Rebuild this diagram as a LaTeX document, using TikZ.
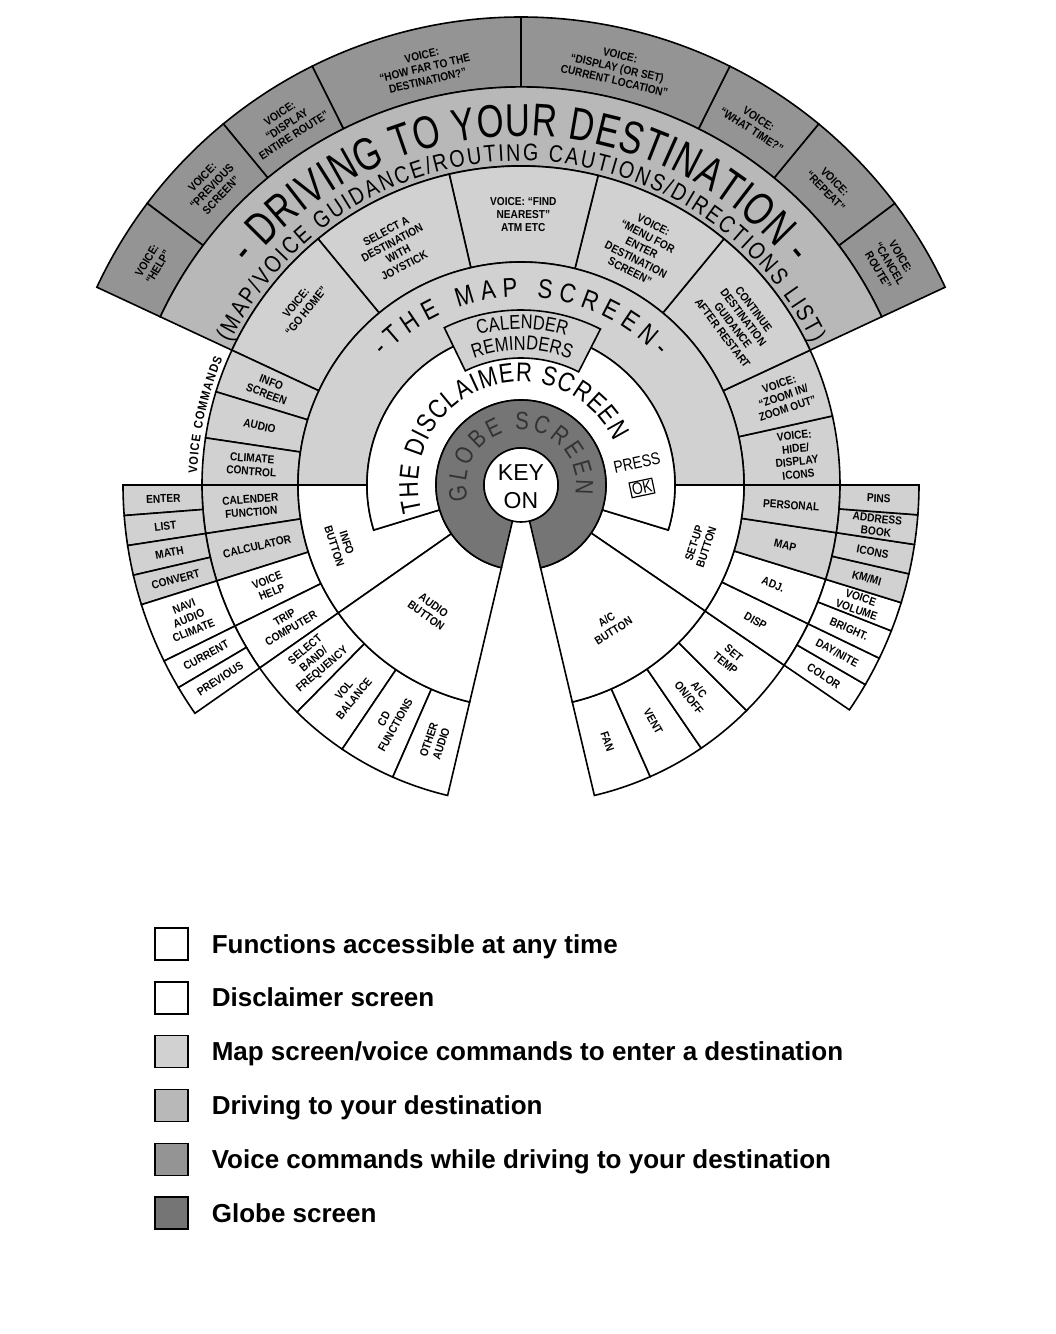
\documentclass[tikz,border=0pt]{standalone}
\usepackage{fontspec}
\setmainfont{Liberation Sans}
\newfontfamily\cellfont[FakeStretch=0.88]{Liberation Sans}
\newfontfamily\ringfont[FakeStretch=0.82]{Liberation Sans}
\newfontfamily\drivefont[FakeStretch=0.75]{Liberation Sans}
\usetikzlibrary{decorations.text}

\colorlet{mapgray}{black!18}
\colorlet{drivegray}{black!28}
\colorlet{voicegray}{black!42}
\colorlet{globegray}{black!54}

% annular cell: [options]{start angle}{end angle}{inner radius}{outer radius}
\newcommand{\ringcell}[5][]{%
  \draw[#1] (#2:#4) arc[start angle=#2,end angle=#3,radius=#4]
    -- (#3:#5) arc[start angle=#3,end angle=#2,radius=#5] -- cycle;}
% text spread along a clockwise arc: {radius}{from}{to}{font}{text}
\newcommand{\arclabel}[5]{%
  \path[decorate,decoration={text along path,text align={fit to path},
      text={|#4|#5}}] (#2:#1) arc[start angle=#2,end angle=#3,radius=#1];}

\begin{document}
\begin{tikzpicture}[x=1pt,y=1pt,line width=1.6pt,
    celltext/.style={font=\cellfont\bfseries\fontsize{11.5}{13}\selectfont,align=center,inner sep=0pt},
    swatch/.style={draw=black,line width=1.4pt,minimum width=33pt,minimum height=32pt,inner sep=0pt},
    legendtext/.style={font=\bfseries\fontsize{26}{28}\selectfont,inner sep=0pt}]

	\useasboundingbox (-521,-849) rectangle (535,485);

	% ring radii
	\def\rKey{37}
	\def\rGlobe{85}
	\def\rDisc{154}
	\def\rBtn{223}
	\def\rSub{319}
	\def\rOut{398}
	\def\rFan{468}

	% --- upper fan: voice commands while driving, driving ring ---
	\foreach \angA/\angB in {25/37, 37/50.5, 50.5/63.5, 63.5/90, 90/116.5, 116.5/129.5, 129.5/143, 143/155}
		{\ringcell[fill=voicegray]{\angA}{\angB}{\rOut}{\rFan}}
	\ringcell[fill=drivegray]{25}{155}{\rSub}{\rOut}

	% map screen cells and voice command columns
	\foreach \angA/\angB in {0/12.5, 12.5/25, 25/50.5, 50.5/76, 76/103, 103/129.5, 129.5/155, 155/163, 163/171.5, 171.5/180}
		{\ringcell[fill=mapgray]{\angA}{\angB}{\rBtn}{\rSub}}
	\ringcell[fill=mapgray]{0}{180}{\rDisc}{\rBtn}

	% --- lower half: sub menus of the buttons ---
	\foreach \angA/\angB/\col in {180/188.75/mapgray, 188.75/197.5/mapgray, 197.5/206.25/white, 206.25/215/white,
			215/225.4/white, 225.4/235.9/white, 235.9/246.3/white, 246.3/256.7/white,
			-76.7/-66.1/white, -66.1/-55.6/white, -55.6/-45/white, -45/-34.4/white,
			-34.4/-25.8/white, -25.8/-17.2/white, -17.2/-8.6/mapgray, -8.6/0/mapgray}
		{\ringcell[fill=\col]{\angA}{\angB}{\rBtn}{\rSub}}
	\foreach \angA/\angB/\col in {180/184.4/mapgray, 184.4/188.75/mapgray, 188.75/193.1/mapgray, 193.1/197.5/mapgray,
			197.5/206.25/white, 206.25/210.6/white, 210.6/215/white,
			-34.4/-30.1/white, -30.1/-25.8/white, -25.8/-21.5/white, -21.5/-17.2/white,
			-17.2/-12.9/mapgray, -12.9/-8.6/mapgray, -8.6/-4.3/mapgray, -4.3/0/mapgray}
		{\ringcell[fill=\col]{\angA}{\angB}{\rSub}{\rOut}}

	% buttons (info and set-up reach in below the disclaimer ring)
	\draw[fill=white] (180:\rBtn) arc[start angle=180,end angle=215,radius=\rBtn] -- (215:\rGlobe)
		arc[start angle=215,end angle=197,radius=\rGlobe] -- (197:\rDisc)
		arc[start angle=197,end angle=180,radius=\rDisc] -- cycle;
	\draw[fill=white] (0:\rBtn) arc[start angle=0,end angle=-34.4,radius=\rBtn] -- (-34.4:\rGlobe)
		arc[start angle=-34.4,end angle=-17,radius=\rGlobe] -- (-17:\rDisc)
		arc[start angle=-17,end angle=0,radius=\rDisc] -- cycle;
	\ringcell[fill=white]{215}{256.7}{\rGlobe}{\rBtn}
	\ringcell[fill=white]{-76.7}{-34.4}{\rGlobe}{\rBtn}

	% --- centre: disclaimer, globe, key ---
	\ringcell[fill=white]{-17}{197}{\rGlobe}{\rDisc}
	\ringcell[fill=globegray]{-76.7}{256.7}{\rKey}{\rGlobe}
	\draw[fill=white] (0,0) circle[radius=\rKey];
	\ringcell[fill=mapgray]{63}{116}{127}{175} % calender tab

	% --- ring titles ---
	\node[font=\fontsize{23}{28}\selectfont,align=center,inner sep=0pt] (key) at (0,-2) {KEY\\ON};
	\arclabel{55}{196}{-10}{\ringfont\fontsize{25}{28}\selectfont\color{black!80}}{GLOBE SCREEN}
	\arclabel{103}{195}{25}{\ringfont\fontsize{27}{30}\selectfont}{THE DISCLAIMER SCREEN}
	\arclabel{188}{137}{43}{\ringfont\fontsize{27}{30}\selectfont}{-THE MAP SCREEN-}
	\arclabel{324}{154}{26}{\ringfont\fontsize{24}{28}\selectfont}{(MAP/VOICE GUIDANCE/ROUTING CAUTIONS/DIRECTIONS LIST)}
	\arclabel{349}{141}{39}{\drivefont\fontsize{46}{50}\selectfont}{- DRIVING TO YOUR DESTINATION -}
	\arclabel{324}{178}{157}{\cellfont\bfseries\fontsize{12.5}{15}\selectfont}{VOICE COMMANDS}
	\path[decorate,decoration={text along path,text align=center,
		text={|\ringfont\fontsize{20}{22}\selectfont|CALENDER}}] (116:156) arc[start angle=116,end angle=63,radius=156];
	\path[decorate,decoration={text along path,text align=center,
		text={|\ringfont\fontsize{20}{22}\selectfont|REMINDERS}}] (116:135) arc[start angle=116,end angle=63,radius=135];

	\node[font=\ringfont\fontsize{17}{19}\selectfont,rotate=12,inner sep=0pt] (press) at (10.7:118) {PRESS};
	\node[font=\ringfont\fontsize{17}{19}\selectfont,rotate=12,draw,line width=1.2pt,inner sep=1.5pt] (ok) at (-1.4:121) {OK};

	% --- cell labels: name/angle/radius/rotation/text ---
	\foreach \nm/\ang/\rr/\rot/\txt in {
			gohome/141/283/51/{VOICE:\\“GO HOME”},
			joystick/118/268/28/{SELECT A\\DESTINATION\\WITH\\JOYSTICK},
			nearest/89.5/270/0/{VOICE: “FIND\\NEAREST”\\ATM ETC},
			menu/63/266/-27/{VOICE:\\“MENU FOR\\ENTER\\DESTINATION\\SCREEN”},
			continue/37/272/-53/{CONTINUE\\DESTINATION\\GUIDANCE\\AFTER RESTART},
			infoscreen/159/270/-21/{INFO\\SCREEN},
			audiocmd/167.3/268/-12.7/{AUDIO},
			climate/175.7/270/-4.3/{CLIMATE\\CONTROL},
			zoom/18.7/277/18.7/{VOICE:\\“ZOOM IN/\\ZOOM OUT”},
			icons/6.2/277/6.2/{VOICE:\\HIDE/\\DISPLAY\\ICONS},
			vhelp/149/430/59/{VOICE:\\“HELP”},
			vprev/136/430/46/{VOICE:\\“PREVIOUS\\SCREEN”},
			vroute/123/430/33/{VOICE:\\“DISPLAY\\ENTIRE ROUTE”},
			vfar/103/428/13/{VOICE:\\“HOW FAR TO THE\\DESTINATION?”},
			vloc/77/428/-13/{VOICE:\\“DISPLAY (OR SET)\\CURRENT LOCATION”},
			vtime/57/430/-33/{VOICE:\\“WHAT TIME?”},
			vrepeat/44/430/-46/{VOICE:\\“REPEAT”},
			vcancel/31/430/-59/{VOICE:\\“CANCEL\\ROUTE”},
			infobtn/198.3/190/-72/{INFO\\BUTTON},
			audiobtn/234/155/-36/{AUDIO\\BUTTON},
			acbtn/-57.6/166/32.4/{A/C\\BUTTON},
			setupbtn/-18.5/189/71.5/{SET-UP\\BUTTON},
			calfunc/184.4/271/4.4/{CALENDER\\FUNCTION},
			calc/193.1/271/13.1/{CALCULATOR},
			vhelpbtn/201.9/271/21.9/{VOICE\\HELP},
			trip/210.6/271/30.6/{TRIP\\COMPUTER},
			band/220.2/271/40.2/{SELECT\\BAND/\\FREQUENCY},
			vol/230.6/271/50.6/{VOL\\BALANCE},
			cd/241/271/61/{CD\\FUNCTIONS},
			other/251.5/271/71.5/{OTHER\\AUDIO},
			personal/-4.3/271/-4.3/{PERSONAL},
			mapset/-12.9/271/-12.9/{MAP},
			adj/-21.5/271/-21.5/{ADJ.},
			disp/-30.1/271/-30.1/{DISP},
			settemp/-39.7/271/-39.7/{SET\\TEMP},
			aconoff/-50.3/271/-50.3/{A/C\\ON/OFF},
			vent/-60.8/271/-60.8/{VENT},
			fan/-71.4/271/-71.4/{FAN},
			enter/182.2/358/2.2/{ENTER},
			list/186.6/358/6.6/{LIST},
			math/190.9/358/10.9/{MATH},
			convert/195.3/358/15.3/{CONVERT},
			navi/201.9/358/21.9/{NAVI\\AUDIO\\CLIMATE},
			current/208.4/358/28.4/{CURRENT},
			previous/212.8/358/32.8/{PREVIOUS},
			pins/-2.15/358/-2.15/{PINS},
			address/-6.45/358/-6.45/{ADDRESS\\BOOK},
			iconset/-10.75/358/-10.75/{ICONS},
			kmmi/-15.05/358/-15.05/{KM/MI},
			vvolume/-19.35/358/-19.35/{VOICE\\VOLUME},
			bright/-23.65/358/-23.65/{BRIGHT.},
			daynite/-27.95/358/-27.95/{DAY/NITE},
			color/-32.25/358/-32.25/{COLOR}}
		\node[celltext,rotate=\rot] (\nm) at (\ang:\rr) {\txt};

	% --- legend ---
	\foreach \i/\col/\lab in {1/white/{Functions accessible at any time},
			2/white/{Disclaimer screen},
			3/mapgray/{Map screen/voice commands to enter a destination},
			4/drivegray/{Driving to your destination},
			5/voicegray/{Voice commands while driving to your destination},
			6/globegray/{Globe screen}}{
		\node[swatch,fill=\col] (sw\i) at (-349.5,{-459-53.8*(\i-1)}) {};
		\node[legendtext,anchor=base west] (lg\i) at (-310,{-468-53.8*(\i-1)}) {\lab};
	}

\end{tikzpicture}
\end{document}
